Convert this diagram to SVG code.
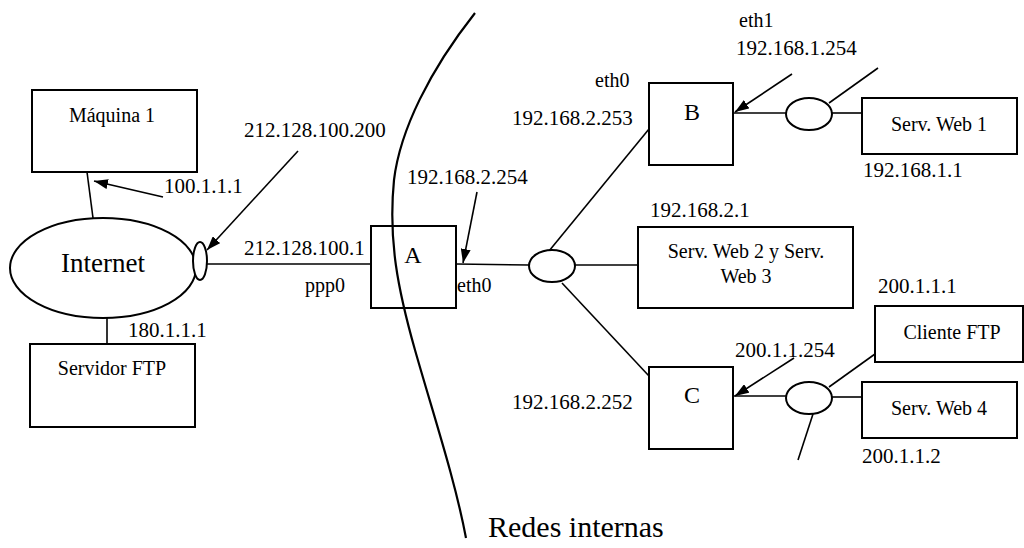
<svg xmlns="http://www.w3.org/2000/svg" width="1024" height="548" viewBox="0 0 1024 548">
<defs>
<marker id="ah" viewBox="0 0 14 10" refX="14" refY="5" markerWidth="14" markerHeight="10" markerUnits="userSpaceOnUse" orient="auto">
<path d="M0,0 L14,5 L0,10 z" fill="#000"/>
</marker>
<style>
.b{fill:#fff;stroke:#000;stroke-width:2}
.l{stroke:#000;stroke-width:1.6;fill:none}
.a{stroke:#000;stroke-width:1.6;fill:none;marker-end:url(#ah)}
.t{font-family:"Liberation Serif","Times New Roman",serif;font-size:20px;fill:#000}
.ip{font-size:21px}
.m{text-anchor:middle}
.big{font-size:24px}
</style>
</defs>
<rect width="1024" height="548" fill="#fff"/>
<g id="connectors">
<line class="l" x1="87" y1="172" x2="93" y2="218"/>
<line class="l" x1="107" y1="318" x2="107" y2="344"/>
<line class="l" x1="207" y1="264" x2="371" y2="264"/>
<line class="l" x1="456" y1="264" x2="529" y2="265"/>
<line class="l" x1="549" y1="251" x2="649" y2="129"/>
<line class="l" x1="575" y1="265" x2="639" y2="265"/>
<line class="l" x1="562" y1="283" x2="649" y2="376"/>
<line class="l" x1="733" y1="113" x2="786" y2="113"/>
<line class="l" x1="832" y1="113" x2="862" y2="113"/>
<line class="l" x1="829" y1="103" x2="878" y2="68"/>
<line class="l" x1="733" y1="396" x2="786" y2="396"/>
<line class="l" x1="832" y1="397" x2="862" y2="397"/>
<line class="l" x1="829" y1="387" x2="875" y2="354"/>
<line class="l" x1="813" y1="414" x2="798" y2="460"/>
<line class="a" x1="163" y1="197" x2="94" y2="181"/>
<line class="a" x1="298" y1="151" x2="207" y2="250"/>
<line class="a" x1="477" y1="192" x2="463" y2="263"/>
<line class="a" x1="792" y1="74" x2="735" y2="112"/>
<line class="a" x1="794" y1="358" x2="735" y2="396"/>
</g>
<g id="maquina1"><rect class="b" x="32" y="90" width="165" height="82"/><text class="t m" x="112" y="122">Máquina 1</text></g>
<g id="internet"><ellipse class="b" cx="103" cy="268" rx="93" ry="50"/><text class="t m" x="103" y="272" style="font-size:27px">Internet</text></g>
<g id="iface-ppp0"><ellipse class="b" cx="200" cy="261" rx="7" ry="19"/></g>
<g id="servidorftp"><rect class="b" x="30" y="344" width="165" height="83"/><text class="t m" x="112" y="375">Servidor FTP</text></g>
<g id="routerA"><rect class="b" x="371" y="226" width="85" height="82"/><text class="t m big" x="413" y="263">A</text></g>
<g id="switch2"><ellipse class="b" cx="552" cy="266" rx="23" ry="16"/></g>
<g id="routerB"><rect class="b" x="649" y="83" width="84" height="82"/><text class="t m big" x="692" y="120">B</text></g>
<g id="switch1"><ellipse class="b" cx="809" cy="114" rx="23" ry="16"/></g>
<g id="servweb1"><rect class="b" x="862" y="98" width="155" height="56"/><text class="t m" x="939" y="131">Serv. Web 1</text></g>
<g id="servweb23"><rect class="b" x="638" y="227" width="215" height="81"/><text class="t m" x="746" y="258">Serv. Web 2 y Serv.</text><text class="t m" x="746" y="283">Web 3</text></g>
<g id="routerC"><rect class="b" x="649" y="367" width="84" height="82"/><text class="t m big" x="692" y="403">C</text></g>
<g id="switch3"><ellipse class="b" cx="809" cy="398" rx="23" ry="16"/></g>
<g id="clienteftp"><rect class="b" x="875" y="306" width="148" height="56"/><text class="t m" x="952" y="339">Cliente FTP</text></g>
<g id="servweb4"><rect class="b" x="862" y="382" width="155" height="56"/><text class="t m" x="939" y="415">Serv. Web 4</text></g>
<path id="boundary" d="M475,13 C430,70 400,130 394,180 C388,240 398,290 415,350 C435,420 455,480 466,538" fill="none" stroke="#000" stroke-width="2.2"/>
<g id="labels">
<text class="t ip" x="164" y="193">100.1.1.1</text>
<text class="t ip" x="244" y="137">212.128.100.200</text>
<text class="t ip" x="244" y="255">212.128.100.1</text>
<text class="t" x="305" y="292">ppp0</text>
<text class="t" x="457" y="292">eth0</text>
<text class="t ip" x="407" y="184">192.168.2.254</text>
<text class="t ip" x="128" y="337">180.1.1.1</text>
<text class="t" x="595" y="87">eth0</text>
<text class="t ip" x="512" y="125">192.168.2.253</text>
<text class="t" x="739" y="27">eth1</text>
<text class="t ip" x="736" y="55">192.168.1.254</text>
<text class="t ip" x="863" y="177">192.168.1.1</text>
<text class="t ip" x="650" y="217">192.168.2.1</text>
<text class="t ip" x="878" y="293">200.1.1.1</text>
<text class="t ip" x="735" y="357">200.1.1.254</text>
<text class="t ip" x="512" y="409">192.168.2.252</text>
<text class="t ip" x="862" y="463">200.1.1.2</text>
<text class="t" x="488" y="537" style="font-size:30px">Redes internas</text>
</g>
</svg>
